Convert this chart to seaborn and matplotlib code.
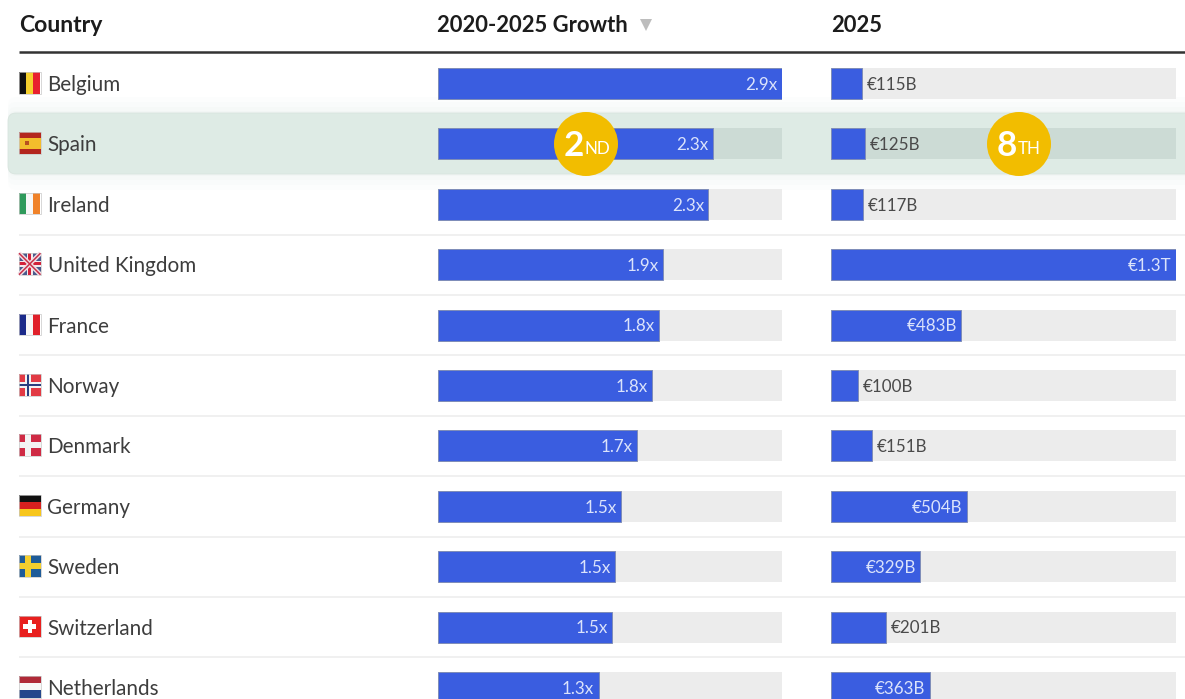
import matplotlib
matplotlib.use("Agg")
import matplotlib.pyplot as plt
from matplotlib.patches import Rectangle, FancyBboxPatch, Circle, Polygon
import seaborn as sns
import pandas as pd

paises = ["Belgium", "Spain", "Ireland", "United Kingdom", "France", "Norway",
          "Denmark", "Germany", "Sweden", "Switzerland", "Netherlands"]
crecimiento = [2.9, 2.32, 2.28, 1.9, 1.865, 1.805, 1.675, 1.545, 1.495, 1.47, 1.355]
crecimiento_txt = ["2.9x", "2.3x", "2.3x", "1.9x", "1.8x", "1.8x", "1.7x", "1.5x", "1.5x", "1.5x", "1.3x"]
valor_2025 = [115, 125, 117, 1270, 480, 100, 151, 500, 329, 201, 363]
valor_txt = ["€115B", "€125B", "€117B", "€1.3T", "€483B", "€100B", "€151B", "€504B", "€329B", "€201B", "€363B"]
encabezados = ["Country", "2020-2025 Growth", "2025"]

ANCHO, ALTO = 1185, 699
AZUL = "#3a5de0"
GRIS = "#ececec"
GRIS_SEL = "#ccdbd5"
FILA_0, PASO = 83.5, 60.4

sns.set_theme(style="white")
plt.rcParams["font.family"] = ["Lato", "DejaVu Sans"]


def px(tam):
    return tam * 0.72


# rectangulos de cada bandera en coordenadas 0-1: x, y, ancho, alto, color
def franjas_v(*cols):
    return [(i / len(cols), 0, 1 / len(cols), 1, c) for i, c in enumerate(cols)]


def franjas_h(*cols):
    return [(0, i / len(cols), 1, 1 / len(cols), c) for i, c in enumerate(cols)]


def cruz(fondo, c1, c2=None):
    r = [(0, 0, 1, 1, fondo), (0.28, 0, 0.26, 1, c1), (0, 0.37, 1, 0.26, c1)]
    if c2:
        r += [(0.36, 0, 0.1, 1, c2), (0, 0.45, 1, 0.1, c2)]
    return r


banderas = {
    "Belgium": franjas_v("#111111", "#f5cf2e", "#e8202e"),
    "Spain": [(0, 0, 1, 1, "#b3261e"), (0, 0.25, 1, 0.5, "#f3bd2c"), (0.28, 0.4, 0.2, 0.2, "#b8501f")],
    "Ireland": franjas_v("#2f9a5b", "#f7f7f7", "#f08229"),
    "France": franjas_v("#1b2a8a", "#f7f7f7", "#e0202a"),
    "Norway": cruz("#e23a44", "#f3f3f3", "#2a3f80"),
    "Denmark": cruz("#cf2a44", "#f3f3f3"),
    "Germany": franjas_h("#111111", "#d8201f", "#f7c61c"),
    "Sweden": cruz("#1f5c99", "#f5cf2e"),
    "Switzerland": [(0, 0, 1, 1, "#e8201f"), (0.4, 0.2, 0.2, 0.6, "#ffffff"), (0.2, 0.4, 0.6, 0.2, "#ffffff")],
    "Netherlands": franjas_h("#b02a38", "#f7f7f7", "#25478c"),
}


def dibujar_bandera(ax, pais, cy):
    x0, y0, lado = 19, cy - 11.5, 21.5
    if pais == "United Kingdom":
        ax.add_patch(Rectangle((x0, y0), lado, lado, color="#4a5a8c", lw=0))
        ax.plot([x0, x0 + lado], [y0, y0 + lado], color="#f1dfe4", lw=3.2, solid_capstyle="butt")
        ax.plot([x0, x0 + lado], [y0 + lado, y0], color="#f1dfe4", lw=3.2, solid_capstyle="butt")
        ax.plot([x0, x0 + lado], [y0, y0 + lado], color="#c8304a", lw=1.1, solid_capstyle="butt")
        ax.plot([x0, x0 + lado], [y0 + lado, y0], color="#c8304a", lw=1.1, solid_capstyle="butt")
        partes = [(0.36, 0, 0.28, 1, "#f4e9ec"), (0, 0.36, 1, 0.28, "#f4e9ec"),
                  (0.43, 0, 0.14, 1, "#d3213a"), (0, 0.43, 1, 0.14, "#d3213a")]
    else:
        partes = banderas[pais]
    for x, y, w, h, c in partes:
        ax.add_patch(Rectangle((x0 + x * lado, y0 + y * lado), w * lado, h * lado, color=c, lw=0))
    ax.add_patch(Rectangle((x0, y0), lado, lado, fill=False, ec="#c8c8c8", lw=0.5))


def dibujar_medalla(ax, cx, cy, num, sufijo, dx):
    ax.add_patch(Circle((cx, cy), 32, color="#f2bd00", lw=0))
    ax.text(cx + dx, cy + 2, num, color="white", fontsize=px(35), fontweight="bold", ha="right", va="center")
    ax.text(cx + dx + 1, cy + 5, sufijo, color="white", fontsize=px(17), ha="left", va="center")


datos = pd.DataFrame({"pais": paises, "crecimiento": crecimiento, "valor": valor_2025})

fig = plt.figure(figsize=(ANCHO / 100, ALTO / 100), dpi=100, facecolor="white")

# capa de fondo en pixeles
fondo = fig.add_axes([0, 0, 1, 1], zorder=0)
fondo.set_xlim(0, ANCHO)
fondo.set_ylim(ALTO, 0)
fondo.axis("off")

# resplandor alrededor de la fila seleccionada
for extra, alfa in [(16, 0.06), (11, 0.08), (6, 0.10), (2, 0.15)]:
    fondo.add_patch(FancyBboxPatch((8, 113 - extra), ANCHO + 30, 61 + 2 * extra,
                                   boxstyle="round,pad=0,rounding_size=8", fc="#dcebe5", ec="none", alpha=alfa))
fondo.add_patch(FancyBboxPatch((8, 113), ANCHO + 30, 61, boxstyle="round,pad=0,rounding_size=8",
                               fc="#deebe5", ec="#d8e4de", lw=0.6))

fondo.plot([19, ANCHO], [52, 52], color="#333333", lw=1.8, solid_capstyle="butt")
for i in range(2, len(paises) - 1):
    y = FILA_0 + PASO * (i + 0.5)
    fondo.plot([19, ANCHO], [y, y], color="#eeeeee", lw=1.2, solid_capstyle="butt")

fondo.text(19, 25, encabezados[0], fontsize=px(23), fontweight="bold", color="#1c1c1c", va="center")
fondo.text(437, 25, encabezados[1], fontsize=px(22), fontweight="bold", color="#1c1c1c", va="center")
fondo.text(831, 25, encabezados[2], fontsize=px(22), fontweight="bold", color="#1c1c1c", va="center")
fondo.add_patch(Polygon([(640, 19), (652, 19), (646, 31)], color="#bdbdbd", lw=0))

for i, pais in enumerate(paises):
    cy = FILA_0 + PASO * i
    dibujar_bandera(fondo, pais, cy)
    fondo.text(47.5, cy + 1.5, pais, fontsize=px(20.6), color="#3d3d3d", va="center")


def panel(x0, x1, columna, maximo, textos, limite_dentro):
    # el eje y va de la cabecera al borde inferior, cada fila mide PASO pixeles
    ax = fig.add_axes([x0 / ANCHO, 0, (x1 - x0) / ANCHO, (ALTO - 53.8) / ALTO], zorder=1)
    ax.patch.set_alpha(0)
    colores_fondo = [GRIS_SEL if p == "Spain" else GRIS for p in paises]
    pista = datos.assign(total=maximo)
    sns.barplot(data=pista, x="total", y="pais", hue="pais", palette=colores_fondo, legend=False,
                order=paises, width=0.515, ax=ax, saturation=1, linewidth=0)
    sns.barplot(data=datos, x=columna, y="pais", order=paises, color=AZUL, width=0.515, ax=ax,
                saturation=1, edgecolor="#7f8db8", linewidth=0.7)
    ax.set_xlim(0, maximo)
    ax.set_ylim((ALTO - FILA_0) / PASO, -(FILA_0 - 53.8) / PASO)
    ax.axis("off")
    for i, (v, t) in enumerate(zip(datos[columna], textos)):
        if v >= limite_dentro:
            ax.annotate(t, (v, i), xytext=(-3.2, -1), textcoords="offset points", ha="right", va="center",
                        fontsize=px(17), color="#dbe3fb", annotation_clip=False)
        else:
            ax.annotate(t, (v, i), xytext=(3.4, -1), textcoords="offset points", ha="left", va="center",
                        fontsize=px(17), color="#4a4a4a", annotation_clip=False)
    return ax


panel(438, 782, "crecimiento", 2.9, crecimiento_txt, 0)
panel(831, 1176, "valor", 1270, valor_txt, 300)

# medallas encima de todo
frente = fig.add_axes([0, 0, 1, 1], zorder=2)
frente.set_xlim(0, ANCHO)
frente.set_ylim(ALTO, 0)
frente.axis("off")
frente.patch.set_alpha(0)
dibujar_medalla(frente, 586, 144, "2", "ND", -2)
dibujar_medalla(frente, 1019, 144, "8", "TH", -2)

fig.savefig("out.png", dpi=100)
